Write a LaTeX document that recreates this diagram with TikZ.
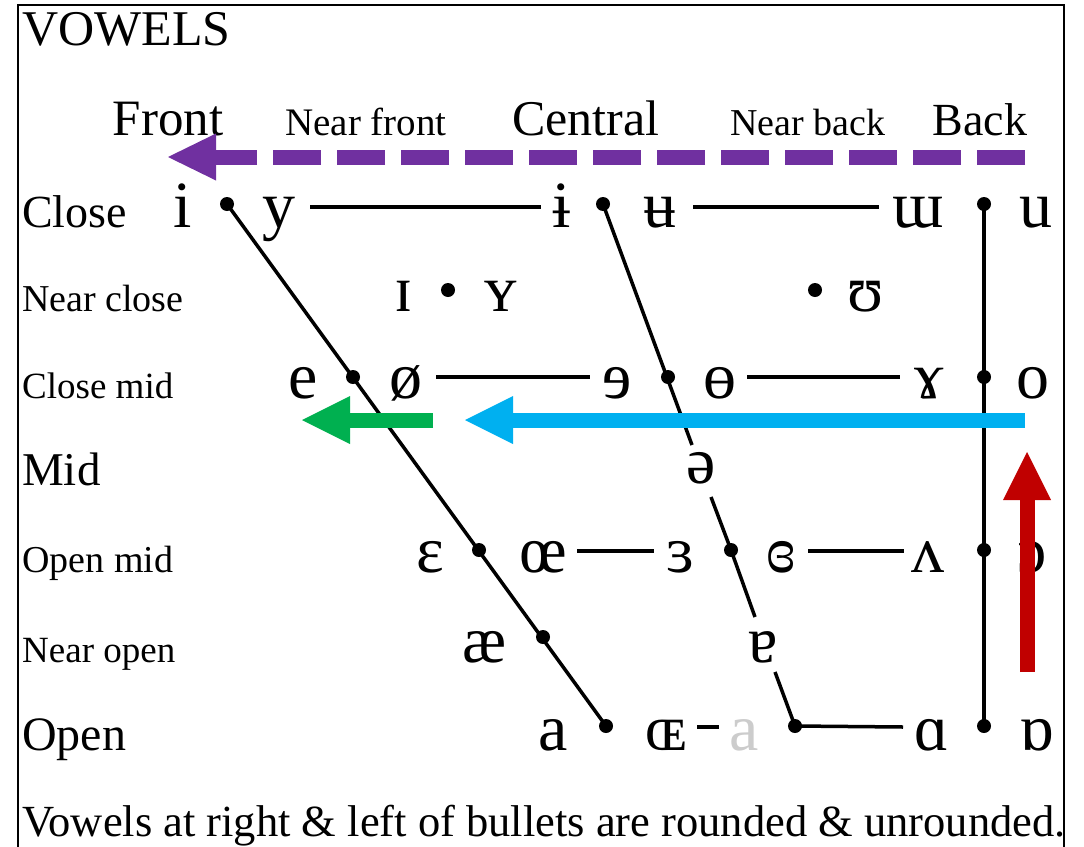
\documentclass[tikz,border=0pt]{standalone}
\usepackage{fontspec}
\setmainfont{Liberation Serif}
\definecolor{arrpurple}{HTML}{7030A0}
\definecolor{arrgreen}{HTML}{00B050}
\definecolor{arrblue}{HTML}{00B0F0}
\definecolor{arrred}{HTML}{C00000}
\definecolor{lightgrey}{HTML}{CCCCCC}
\begin{document}
\begin{tikzpicture}[x=1pt,y=-1pt,
  vw/.style={font=\fontsize{66}{66}\selectfont, anchor=base, inner sep=0pt},
  lbl/.style={anchor=base west, inner sep=0pt},
  hdr/.style={anchor=base, inner sep=0pt},
  dot/.style={circle, fill=black, inner sep=0pt, minimum size=14pt},
  ln/.style={line width=3.5pt},
  bar/.style={line width=15pt},
]
\useasboundingbox (0,0) rectangle (1084,846);
% frame
\draw[line width=2pt] (18,850) -- (18,5) -- (1064,5) -- (1064,850);

% title and headers
\node[lbl,font=\fontsize{50}{50}\selectfont] (title) at (22,45) {VOWELS};
\node[hdr,font=\fontsize{51}{51}\selectfont] (hfront) at (168,135) {Front};
\node[hdr,font=\fontsize{39}{39}\selectfont] (hnfront) at (366,135) {Near front};
\node[hdr,font=\fontsize{50}{50}\selectfont] (hcentral) at (586,135) {Central};
\node[hdr,font=\fontsize{38}{38}\selectfont] (hnback) at (808,135) {Near back};
\node[hdr,font=\fontsize{46}{46}\selectfont] (hback) at (980,135) {Back};

% row labels
\node[lbl,font=\fontsize{46}{46}\selectfont] (rclose) at (22,227) {Close};
\node[lbl,font=\fontsize{38}{38}\selectfont] (rnclose) at (22,311) {Near close};
\node[lbl,font=\fontsize{37}{37}\selectfont] (rcmid) at (22,398) {Close mid};
\node[lbl,font=\fontsize{47}{47}\selectfont] (rmid) at (22,485) {Mid};
\node[lbl,font=\fontsize{38}{38}\selectfont] (romid) at (22,572) {Open mid};
\node[lbl,font=\fontsize{37}{37}\selectfont] (rnopen) at (22,662) {Near open};
\node[lbl,font=\fontsize{48}{48}\selectfont] (ropen) at (22,750) {Open};

% Close row
\node[vw] (vi) at (183,227) {i};
\node[dot] (d11) at (227,204) {};
\node[vw] (vy) at (279,227) {y};
\node[vw] (vbi) at (562,227) {ɨ};
\node[dot] (d12) at (603,204) {};
\node[vw] (vbu) at (660,227) {ʉ};
\node[vw] (vmw) at (918,227) {ɯ};
\node[dot] (d13) at (984,204) {};
\node[vw] (vu) at (1036,227) {u};
\coordinate (c1a) at (310,207); \coordinate (c1b) at (541,207);
\coordinate (c1c) at (693,207); \coordinate (c1d) at (879,207);
\draw[ln] (c1a) -- (c1b);
\draw[ln] (c1c) -- (c1d);

% Near close row
\node[vw] (vsi) at (404,311) {ɪ};
\node[dot] (d21) at (448,290) {};
\node[vw] (vsy) at (501,311) {ʏ};
\node[dot] (d22) at (815,290) {};
\node[vw] (vhu) at (866,311) {ʊ};

% Close mid row
\node[vw] (ve) at (303,398) {e};
\node[dot] (d31) at (353,377) {};
\node[vw] (voslash) at (406,398) {ø};
\node[vw] (vre) at (617,398) {ɘ};
\node[dot] (d32) at (668,377) {};
\node[vw] (vbo) at (720,398) {ɵ};
\node[vw] (vram) at (929,398) {ɤ};
\node[dot] (d33) at (984,377) {};
\node[vw] (vo) at (1033,398) {o};
\coordinate (c3a) at (436,377); \coordinate (c3b) at (590,377);
\coordinate (c3c) at (747,377); \coordinate (c3d) at (900,377);
\draw[ln] (c3a) -- (c3b);
\draw[ln] (c3c) -- (c3d);

% Mid row
\node[vw] (vschwa) at (701,483) {ə};

% Open mid row
\node[vw] (veps) at (430,572) {ɛ};
\node[dot] (d51) at (479,550) {};
\node[vw] (voe) at (543,572) {œ};
\node[vw] (vrev) at (680,572) {ɜ};
\node[dot] (d52) at (731,550) {};
\node[vw] (vcre) at (781,572) {ɞ};
\node[vw] (vwedge) at (928,572) {ʌ};
\node[dot] (d53) at (984,550) {};
\node[vw] (voo) at (1032,572) {ɔ};
\coordinate (c5a) at (577,551); \coordinate (c5b) at (654,551);
\coordinate (c5c) at (808,551); \coordinate (c5d) at (904,551);
\draw[ln] (c5a) -- (c5b);
\draw[ln] (c5c) -- (c5d);

% Near open row
\node[vw] (vae) at (485,662) {æ};
\node[dot] (d61) at (543,637) {};
\node[vw] (vturna) at (763,662) {ɐ};

% Open row
\node[vw] (va) at (553,750) {a};
\node[dot] (d71) at (606,726) {};
\node[vw] (voee) at (666,750) {ɶ};
\node[vw, text=lightgrey] (vga) at (744,750) {a};
\node[dot] (d72) at (795,726) {};
\node[vw] (valpha) at (932,750) {ɑ};
\node[dot] (d73) at (984,726) {};
\node[vw] (vturnalpha) at (1037,750) {ɒ};
\coordinate (c7a) at (697,727); \coordinate (c7b) at (719,727);
\coordinate (c7d) at (903,727);
\draw[ln] (c7a) -- (c7b);
\draw[ln] (d72.center) -- (c7d);

% front diagonal
\draw[ln] (d11.center) -- (d71.center);
% central diagonal with gaps
\coordinate (g1) at (692,445); \coordinate (g2) at (711,497);
\coordinate (g3) at (755,617); \coordinate (g4) at (775,672);
\draw[ln] (d12.center) -- (g1);
\draw[ln] (g2) -- (d52.center) -- (g3);
\draw[ln] (g4) -- (d72.center);
% back vertical
\draw[ln] (d13.center) -- (d73.center);

% arrows
\coordinate (pt) at (1025,157); \coordinate (pb) at (216,157); \coordinate (ph) at (168,157);
\draw[bar, arrpurple, dash pattern=on 48pt off 16pt] (pt) -- (pb);
\fill[arrpurple] (ph) -- ([yshift=-23.5pt]pb) -- ([yshift=23.5pt]pb) -- cycle;

\coordinate (gt) at (433,420); \coordinate (gb) at (350,420); \coordinate (gh) at (302,420);
\draw[bar, arrgreen] (gt) -- (gb);
\fill[arrgreen] (gh) -- ([yshift=-24pt]gb) -- ([yshift=24pt]gb) -- cycle;

\coordinate (bt) at (1025,420); \coordinate (bb) at (513,420); \coordinate (bh) at (465,420);
\draw[bar, arrblue] (bt) -- (bb);
\fill[arrblue] (bh) -- ([yshift=-24pt]bb) -- ([yshift=24pt]bb) -- cycle;

\coordinate (rt) at (1027,672); \coordinate (rb) at (1027,500); \coordinate (rh) at (1027,452);
\draw[bar, arrred] (rt) -- (rb);
\fill[arrred] (rh) -- ([xshift=-24pt]rb) -- ([xshift=24pt]rb) -- cycle;

% footnote
\node[lbl,font=\fontsize{44.5}{44.5}\selectfont] (foot) at (22,836) {Vowels at right \& left of bullets are rounded \& unrounded.};
\end{tikzpicture}
\end{document}
